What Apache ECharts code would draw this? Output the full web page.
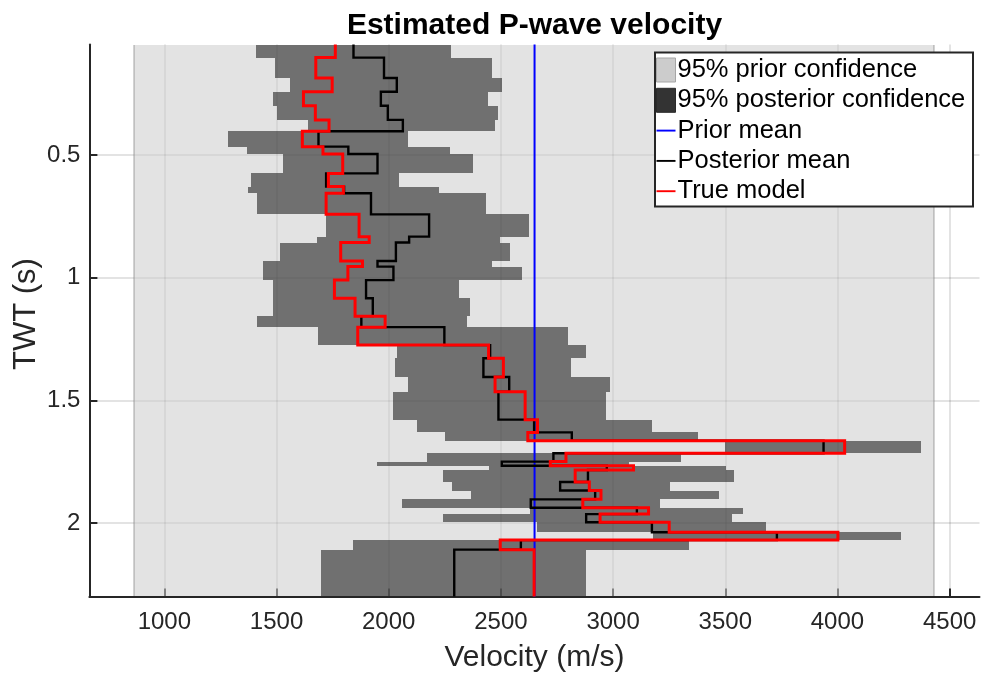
<!DOCTYPE html>
<html>
<head>
<meta charset="utf-8">
<title>Estimated P-wave velocity</title>
<script src="https://cdn.jsdelivr.net/npm/echarts@6/dist/echarts.min.js"></script>
<style>
  html, body { margin: 0; padding: 0; background: #ffffff; }
  #chart { width: 983px; height: 675px; }
</style>
</head>
<body>
<div id="chart"></div>
<script>
// Layer boundaries in two-way time (s); layer i spans layerBounds[i]..layerBounds[i+1]
const layerBounds = [0.05, 0.103, 0.186, 0.242, 0.299, 0.357, 0.403, 0.466, 0.496, 0.575,
  0.629, 0.656, 0.742, 0.833, 0.857, 0.932, 0.955, 1.010, 1.084, 1.157,
  1.202, 1.275, 1.329, 1.405, 1.465, 1.579, 1.631, 1.665, 1.716, 1.750,
  1.767, 1.784, 1.833, 1.868, 1.904, 1.938, 1.964, 1.997, 2.038, 2.070,
  2.109, 2.30];

// 95% posterior confidence interval per layer (m/s)
const postLow = [1410, 1493, 1560, 1486, 1501, 1642, 1285, 1367, 1528, 1387,
  1375, 1412, 1721, 1682, 1516, 1441, 1441, 1486, 1486, 1415,
  1687, 2036, 2029, 2088, 2018, 2125, 2251, 3500, 2170, 1947,
  2448, 2240, 2281, 2367, 2061, 2630, 2240, 2663, 3180, 1843, 1697];
const postHigh = [2277, 2460, 2504, 2444, 2489, 2474, 2088, 2274, 2375, 2047,
  2222, 2433, 2627, 2497, 2541, 2460, 2593, 2315, 2363, 2348,
  2799, 2880, 2813, 2988, 2969, 3173, 3378, 4372, 3304, 3069,
  3503, 3540, 3255, 3470, 3210, 3579, 3530, 3681, 4283, 3339, 2880];

// Posterior mean velocity per layer (m/s)
const postMean = [1843, 1979, 2036, 1965, 1996, 2063, 1687, 1820, 1950, 1721,
  1801, 1921, 2180, 2091, 2032, 1950, 2021, 1899, 1929, 1878,
  2248, 2452, 2422, 2537, 2489, 2648, 2816, 3938, 2734, 2504,
  2972, 2888, 2764, 2920, 2633, 3106, 2880, 3173, 3730, 2589, 2292];

// True model velocity per layer (m/s)
const trueModel = [1762, 1675, 1748, 1620, 1673, 1734, 1615, 1707, 1795, 1731,
  1798, 1721, 1868, 1913, 1786, 1883, 1818, 1758, 1850, 1984,
  1862, 2445, 2511, 2474, 2608, 2663, 2620, 4032, 2790, 2720,
  3091, 2831, 2894, 2946, 2865, 3158, 2942, 3250, 4002, 2497, 2648];

// Prior: mean and 95% confidence bounds (m/s)
const priorMean = 2650;
const priorLow = 866;
const priorHigh = 4432;

// Axis ranges and tick labels
const velocityRange = [666, 4633];
const timeRange = [0.05, 2.30];
const velocityTicks = [1000, 1500, 2000, 2500, 3000, 3500, 4000, 4500];
const timeTicks = [0.5, 1, 1.5, 2];

const FONT = '"Liberation Sans", Arial, Helvetica, sans-serif';
const INK = '#262626';

// Turn per-layer values into a staircase polyline [velocity, time]
function stairs(bounds, vals) {
  const pts = [];
  for (let i = 0; i < vals.length; i++) {
    pts.push([vals[i], bounds[i]], [vals[i], bounds[i + 1]]);
  }
  return pts;
}

// Each box item: [tTop, tBottom, vLow, vHigh]
const postBoxes = postLow.map((lo, i) => [layerBounds[i], layerBounds[i + 1], lo, postHigh[i]]);
const priorBox = [[timeRange[0], timeRange[1], priorLow, priorHigh]];

function boxCorners(api) {
  const a = api.coord([api.value(2), api.value(0)]);
  const b = api.coord([api.value(3), api.value(1)]);
  const x0 = Math.round(Math.min(a[0], b[0]));
  const x1 = Math.round(Math.max(a[0], b[0]));
  const y0 = Math.round(Math.min(a[1], b[1]));
  const y1 = Math.round(Math.max(a[1], b[1]));
  return { x0, x1, y0, y1 };
}

function renderPosterior(params, api) {
  const c = boxCorners(api);
  return {
    type: 'rect',
    shape: { x: c.x0, y: c.y0, width: c.x1 - c.x0, height: c.y1 - c.y0 },
    style: { fill: 'rgba(51,51,51,0.66)' }
  };
}

function renderPrior(params, api) {
  const c = boxCorners(api);
  return {
    type: 'group',
    children: [
      { type: 'rect', shape: { x: c.x0, y: c.y0, width: c.x1 - c.x0, height: c.y1 - c.y0 },
        style: { fill: 'rgba(204,204,204,0.555)' } },
      { type: 'line', shape: { x1: c.x0, y1: c.y0, x2: c.x0, y2: c.y1 },
        style: { stroke: 'rgba(120,120,120,0.55)', lineWidth: 1.2 } },
      { type: 'line', shape: { x1: c.x1, y1: c.y0, x2: c.x1, y2: c.y1 },
        style: { stroke: 'rgba(120,120,120,0.55)', lineWidth: 1.2 } }
    ]
  };
}

const chart = echarts.init(document.getElementById('chart'), null, { renderer: 'canvas' });

const lineIcon = 'path://M0,0H20V2H0Z';

const option = {
  animation: false,
  backgroundColor: '#ffffff',
  textStyle: { fontFamily: FONT },
  grid: { left: 89.4, right: 3.5, top: 44.6, bottom: 78.5, containLabel: false, outerBoundsMode: 'none' },
  xAxis: {
    type: 'value',
    min: velocityRange[0],
    max: velocityRange[1],
    name: 'Velocity (m/s)',
    nameLocation: 'middle',
    nameGap: 46,
    nameTextStyle: { fontSize: 30, color: INK, fontFamily: FONT },
    axisLine: { show: true, lineStyle: { color: INK, width: 2 } },
    axisTick: { show: true, inside: true, length: 8, customValues: velocityTicks,
      lineStyle: { color: INK, width: 2 } },
    axisLabel: { customValues: velocityTicks, fontSize: 24, color: INK, margin: 14,
      fontFamily: FONT, formatter: (v) => String(v) },
    splitLine: { show: true, lineStyle: { color: 'rgba(38,38,38,0.13)', width: 2 } }
  },
  yAxis: {
    type: 'value',
    inverse: true,
    min: timeRange[0],
    max: timeRange[1],
    axisLine: { show: true, lineStyle: { color: INK, width: 2 } },
    axisTick: { show: true, inside: true, length: 8, customValues: timeTicks,
      lineStyle: { color: INK, width: 2 } },
    axisLabel: { customValues: timeTicks, fontSize: 24, color: INK, margin: 9,
      fontFamily: FONT, formatter: (v) => String(v) },
    splitLine: { show: true, lineStyle: { color: 'rgba(38,38,38,0.13)', width: 2 } }
  },
  legend: {
    orient: 'vertical',
    left: 656,
    top: 57,
    z: 200,
    padding: 0,
    itemWidth: 19,
    itemHeight: 24,
    itemGap: 4.3,
    selectedMode: false,
    textStyle: { fontSize: 25.5, color: '#000000', fontFamily: FONT, padding: [0, 0, 0, -3] },
    data: [
      { name: '95% prior confidence', icon: 'rect',
        itemStyle: { color: '#cccccc', borderColor: '#a6a6a6', borderWidth: 1 } },
      { name: '95% posterior confidence', icon: 'rect',
        itemStyle: { color: '#333333', borderColor: '#2a2a2a', borderWidth: 1 } },
      { name: 'Prior mean', icon: lineIcon, itemStyle: { color: '#0000ff', borderWidth: 0 } },
      { name: 'Posterior mean', icon: lineIcon, itemStyle: { color: '#000000', borderWidth: 0 } },
      { name: 'True model', icon: lineIcon, itemStyle: { color: '#ff0000', borderWidth: 0 } }
    ]
  },
  graphic: [
    { type: 'rect', z: 150, shape: { x: 655, y: 52.5, width: 318, height: 154 },
      style: { fill: '#ffffff', stroke: INK, lineWidth: 2 } },
    { type: 'text', z: 150, x: 534.5, y: 26,
      style: { text: 'Estimated P-wave velocity', fill: '#000000', textAlign: 'center',
        textVerticalAlign: 'middle', font: 'bold 30px ' + FONT } },
    // vertical axis title
    { type: 'text', z: 150, x: 26, y: 314, rotation: Math.PI / 2,
      style: { text: 'TWT (s)', fill: INK, textAlign: 'center',
        textVerticalAlign: 'middle', font: '31px ' + FONT } }
  ],
  series: [
    {
      name: '95% prior confidence',
      type: 'custom',
      z: 1,
      clip: true,
      itemStyle: { color: '#cccccc' },
      encode: { x: [2, 3], y: [0, 1] },
      renderItem: renderPrior,
      data: priorBox
    },
    {
      name: '95% posterior confidence',
      type: 'custom',
      z: 2,
      clip: true,
      itemStyle: { color: '#333333' },
      encode: { x: [2, 3], y: [0, 1] },
      renderItem: renderPosterior,
      data: postBoxes
    },
    {
      name: 'Prior mean',
      type: 'line',
      z: 3,
      symbol: 'none',
      clip: true,
      itemStyle: { color: '#0000ff' },
      lineStyle: { color: '#0000ff', width: 2 },
      data: [[priorMean, timeRange[0]], [priorMean, timeRange[1]]]
    },
    {
      name: 'Posterior mean',
      type: 'line',
      z: 4,
      symbol: 'none',
      clip: true,
      itemStyle: { color: '#000000' },
      lineStyle: { color: '#000000', width: 2.4, join: 'miter', cap: 'butt' },
      data: stairs(layerBounds, postMean)
    },
    {
      name: 'True model',
      type: 'line',
      z: 5,
      symbol: 'none',
      clip: true,
      itemStyle: { color: '#ff0000' },
      lineStyle: { color: '#ff0000', width: 3, join: 'miter', cap: 'butt' },
      data: stairs(layerBounds, trueModel)
    }
  ]
};

chart.setOption(option);
</script>
</body>
</html>
